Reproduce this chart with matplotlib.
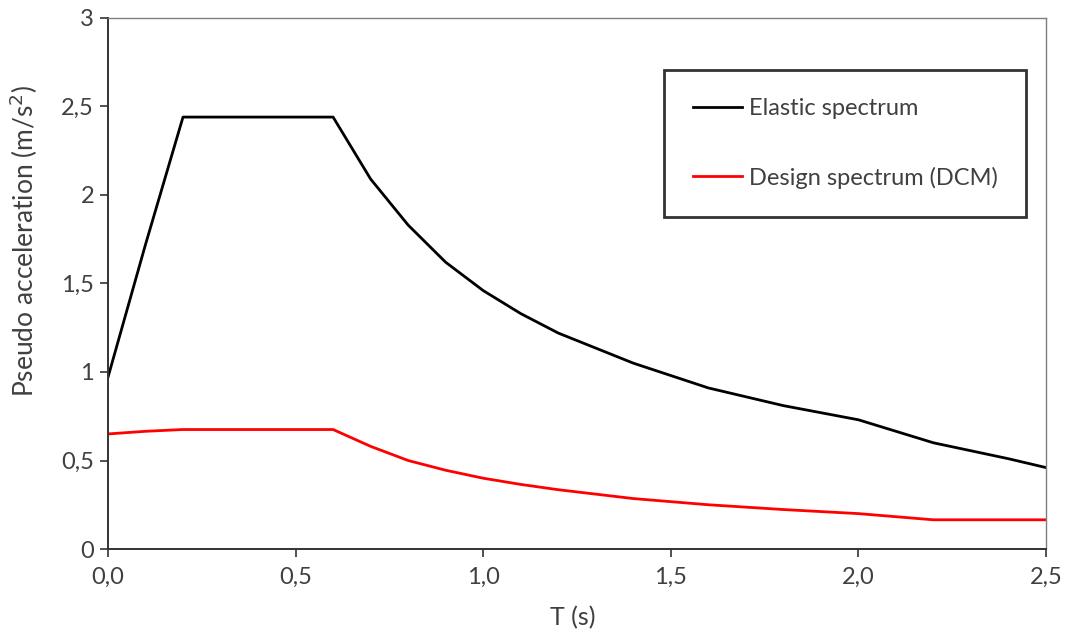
import numpy as np
import matplotlib
matplotlib.use('Agg')
import matplotlib.pyplot as plt

# Period (s)
T = [0.0, 0.1, 0.2, 0.3, 0.4, 0.5, 0.6, 0.7, 0.8, 0.9, 1.0, 1.1, 1.2,
     1.4, 1.6, 1.8, 2.0, 2.2, 2.4, 2.5]
# Elastic spectrum (m/s2)
elastic = [0.97, 1.72, 2.44, 2.44, 2.44, 2.44, 2.44, 2.09, 1.83, 1.62, 1.46,
           1.33, 1.22, 1.05, 0.91, 0.81, 0.73, 0.60, 0.51, 0.46]
# Design spectrum, DCM (m/s2)
design = [0.65, 0.665, 0.675, 0.675, 0.675, 0.675, 0.675, 0.58, 0.50, 0.445,
          0.40, 0.365, 0.335, 0.285, 0.25, 0.223, 0.20, 0.165, 0.165, 0.165]

xticks = [0.0, 0.5, 1.0, 1.5, 2.0, 2.5]
xticklabels = ['0,0', '0,5', '1,0', '1,5', '2,0', '2,5']
yticks = [0, 0.5, 1, 1.5, 2, 2.5, 3]
yticklabels = ['0', '0,5', '1', '1,5', '2', '2,5', '3']

plt.rcParams['font.family'] = ['Lato', 'DejaVu Sans']
txtcol = '#404040'

fig = plt.figure(figsize=(10.69, 6.41), dpi=100)
ax = fig.add_axes([0.101, 0.1435, 0.8775, 0.8285])

ax.plot(T, elastic, color='black', lw=2.0, label='Elastic spectrum')
ax.plot(T, design, color='#ff0000', lw=2.0, label='Design spectrum (DCM)')

ax.set_xlim(0, 2.5)
ax.set_ylim(0, 3)
ax.set_xticks(xticks)
ax.set_xticklabels(xticklabels)
ax.set_yticks(yticks)
ax.set_yticklabels(yticklabels)
ax.tick_params(axis='both', direction='out', length=6, width=1.2,
               labelsize=17, labelcolor=txtcol, color='#333333')
ax.tick_params(axis='x', pad=7)
ax.tick_params(axis='y', pad=4)

for s in ['left', 'bottom']:
    ax.spines[s].set_color('#333333')
    ax.spines[s].set_linewidth(1.4)
for s in ['top', 'right']:
    ax.spines[s].set_color('#7f7f7f')
    ax.spines[s].set_linewidth(1.0)

ax.set_xlabel('T (s)', fontsize=18, color=txtcol)
ax.set_ylabel('Pseudo acceleration (m/s$^2$)', fontsize=19, color=txtcol)
ax.xaxis.set_label_coords(0.495, -0.108)
ax.yaxis.set_label_coords(-0.072, 0.58)

leg = ax.legend(loc='upper left', bbox_to_anchor=(0.593, 0.902),
                fontsize=17, frameon=True, fancybox=False, edgecolor='black',
                handlelength=2.1, handletextpad=0.3, labelspacing=2.0,
                borderpad=1.2, borderaxespad=0)
leg.get_frame().set_linewidth(2.0)
for t in leg.get_texts():
    t.set_color(txtcol)

fig.savefig('out.png', dpi=100)
